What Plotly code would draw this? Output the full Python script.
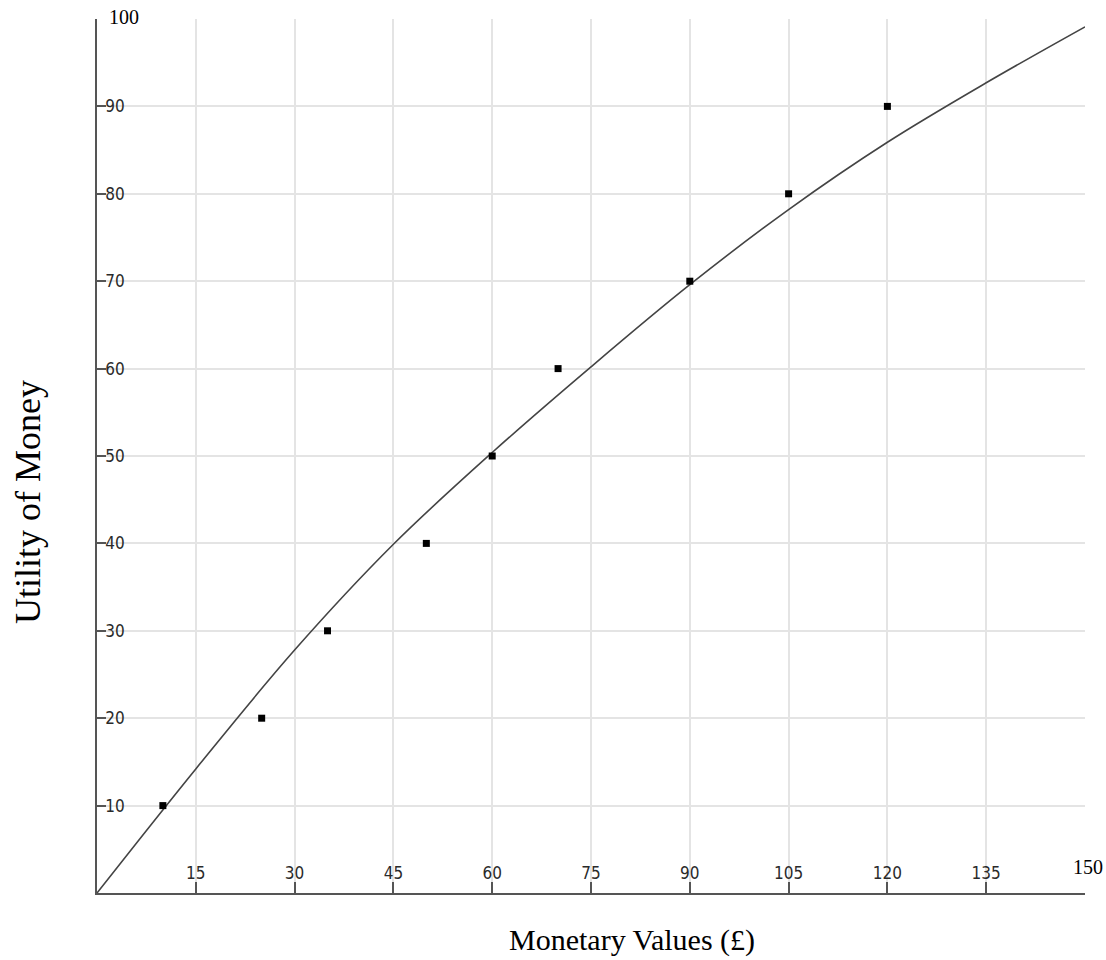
import plotly.graph_objects as go

# Observed data points (Monetary value in £, utility)
money = [10, 25, 35, 50, 60, 70, 90, 105, 120]
utility = [10, 20, 30, 40, 50, 60, 70, 80, 90]

# Fitted utility curve
curve_x = [0, 15, 30, 45, 60, 75, 90, 105, 120, 135, 150]
curve_y = [0, 14.2, 27.8, 39.9, 50.4, 60.2, 69.6, 78.2, 85.9, 92.7, 99.1]

x_ticks = [15, 30, 45, 60, 75, 90, 105, 120, 135, 150]
x_labels = ["15", "30", "45", "60", "75", "90", "105", "120", "135", ""]
y_ticks = [10, 20, 30, 40, 50, 60, 70, 80, 90, 100]
y_labels = ["10", "20", "30", "40", "50", "60", "70", "80", "90", ""]

# Plot area in page pixels (body margin removed below)
PL, PR, PT, PB = 97, 1085, 19, 893
W, H = 1106, 960
pw, ph = PR - PL, PB - PT

fig = go.Figure()
fig.add_trace(go.Scatter(
    x=curve_x, y=curve_y, mode="lines",
    line=dict(color="#444444", width=1.6, shape="spline", smoothing=1.0),
    hoverinfo="skip", showlegend=False))
fig.add_trace(go.Scatter(
    x=money, y=utility, mode="markers",
    marker=dict(symbol="square", size=7, color="black"),
    showlegend=False))

tickfont = dict(family="DejaVu Sans Condensed, DejaVu Sans", size=17, color="#2a2a2a")
fig.update_xaxes(
    range=[0, 150], tickvals=x_ticks, ticktext=x_labels,
    ticks="inside", ticklen=11, tickwidth=1.5, tickcolor="#555555",
    ticklabelposition="inside", tickfont=tickfont,
    showgrid=True, gridcolor="#e4e4e4", gridwidth=2,
    showline=True, linecolor="#555555", linewidth=1.5, zeroline=False)
fig.update_yaxes(
    range=[0, 100], tickvals=y_ticks, ticktext=y_labels,
    ticks="inside", ticklen=9, tickwidth=1.5, tickcolor="#555555",
    ticklabelposition="inside", tickfont=tickfont,
    showgrid=True, gridcolor="#e4e4e4", gridwidth=2,
    showline=True, linecolor="#555555", linewidth=1.5, zeroline=False)

serif = "Liberation Serif, Times New Roman, serif"
fig.add_annotation(x=0, y=100, xref="x", yref="y", text="100", showarrow=False,
                   xanchor="left", yanchor="middle", xshift=10, yshift=2,
                   font=dict(family=serif, size=20, color="black"))
fig.add_annotation(x=150, y=0, xref="x", yref="y", text="150", showarrow=False,
                   xanchor="center", yanchor="middle", xshift=3, yshift=26,
                   font=dict(family=serif, size=20, color="black"))
fig.add_annotation(x=(632 - PL) / pw, y=-(940 - PB) / ph, xref="paper", yref="paper",
                   text="Monetary Values (£)", showarrow=False,
                   xanchor="center", yanchor="middle",
                   font=dict(family=serif, size=30, color="black"))
fig.add_annotation(x=-(PL - 28) / pw, y=(PB - 502) / ph, xref="paper", yref="paper",
                   text="Utility of Money", showarrow=False, textangle=-90,
                   xanchor="center", yanchor="middle",
                   font=dict(family=serif, size=36, color="black"))

fig.update_layout(
    width=W, height=H,
    margin=dict(l=PL, r=W - PR, t=PT, b=H - PB),
    plot_bgcolor="white", paper_bgcolor="white",
)
fig.write_html("out.html", config={"displayModeBar": False},
               post_script="document.body.style.margin='0';document.body.style.overflow='hidden';")
